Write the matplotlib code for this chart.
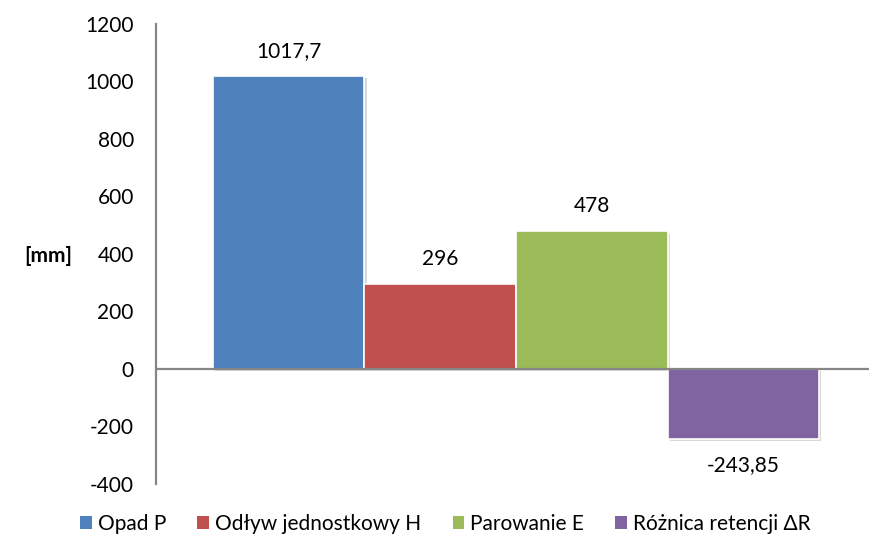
import matplotlib
matplotlib.use('Agg')
import matplotlib.pyplot as plt
import matplotlib.patheffects as pe
from matplotlib.patches import Patch

# Dane bilansu wodnego [mm]
series = ['Opad P', 'Odływ jednostkowy H', 'Parowanie E', 'Różnica retencji ΔR']
values = [1017.7, 296, 478, -243.85]
colors = ['#4F81BD', '#C0504D', '#9BBB59', '#8064A2']
yticks = [-400, -200, 0, 200, 400, 600, 800, 1000, 1200]

plt.rcParams['font.family'] = ['Lato', 'DejaVu Sans']
plt.rcParams['axes.unicode_minus'] = False
fs = 15

fig = plt.figure(figsize=(8.7, 5.42), dpi=100)
ax = fig.add_axes([0.1793, 0.107, 0.82, 0.849])

shadow = [pe.SimplePatchShadow(offset=(1.5, -1.5), alpha=0.18), pe.Normal()]
for i, (name, v, c) in enumerate(zip(series, values, colors)):
    bar = ax.bar(i, v, width=1.0, color=c, edgecolor='white', linewidth=1.2, zorder=2)
    bar[0].set_path_effects(shadow)
    label = f'{v:g}'.replace('.', ',')
    off = 18 if v >= 0 else -19
    ax.annotate(label, (i, v), xytext=(0, off), textcoords='offset points',
                ha='center', va='center', fontsize=fs)

ax.axhline(0, color='#868686', linewidth=1.6, zorder=3)
ax.set_xlim(-0.875, 3.83)
ax.set_ylim(-400, 1200)
ax.set_yticks(yticks)
ax.set_yticklabels([str(t) for t in yticks], fontsize=fs)
ax.tick_params(axis='y', length=0, pad=16)
ax.set_xticks([])
for s in ['top', 'right', 'bottom']:
    ax.spines[s].set_visible(False)
ax.spines['left'].set_color('#868686')
ax.spines['left'].set_linewidth(1.6)

fig.text(0.056, 0.527, '[mm]', fontsize=fs, fontweight='bold', ha='center', va='center')

handles = [Patch(facecolor=c, edgecolor='none') for c in colors]
fig.legend(handles, series, loc='lower center', bbox_to_anchor=(0.512, -0.02), ncol=4,
           frameon=False, fontsize=fs, handlelength=0.55, handleheight=0.55,
           handletextpad=0.3, columnspacing=1.5)

fig.savefig('out.png', dpi=100)
